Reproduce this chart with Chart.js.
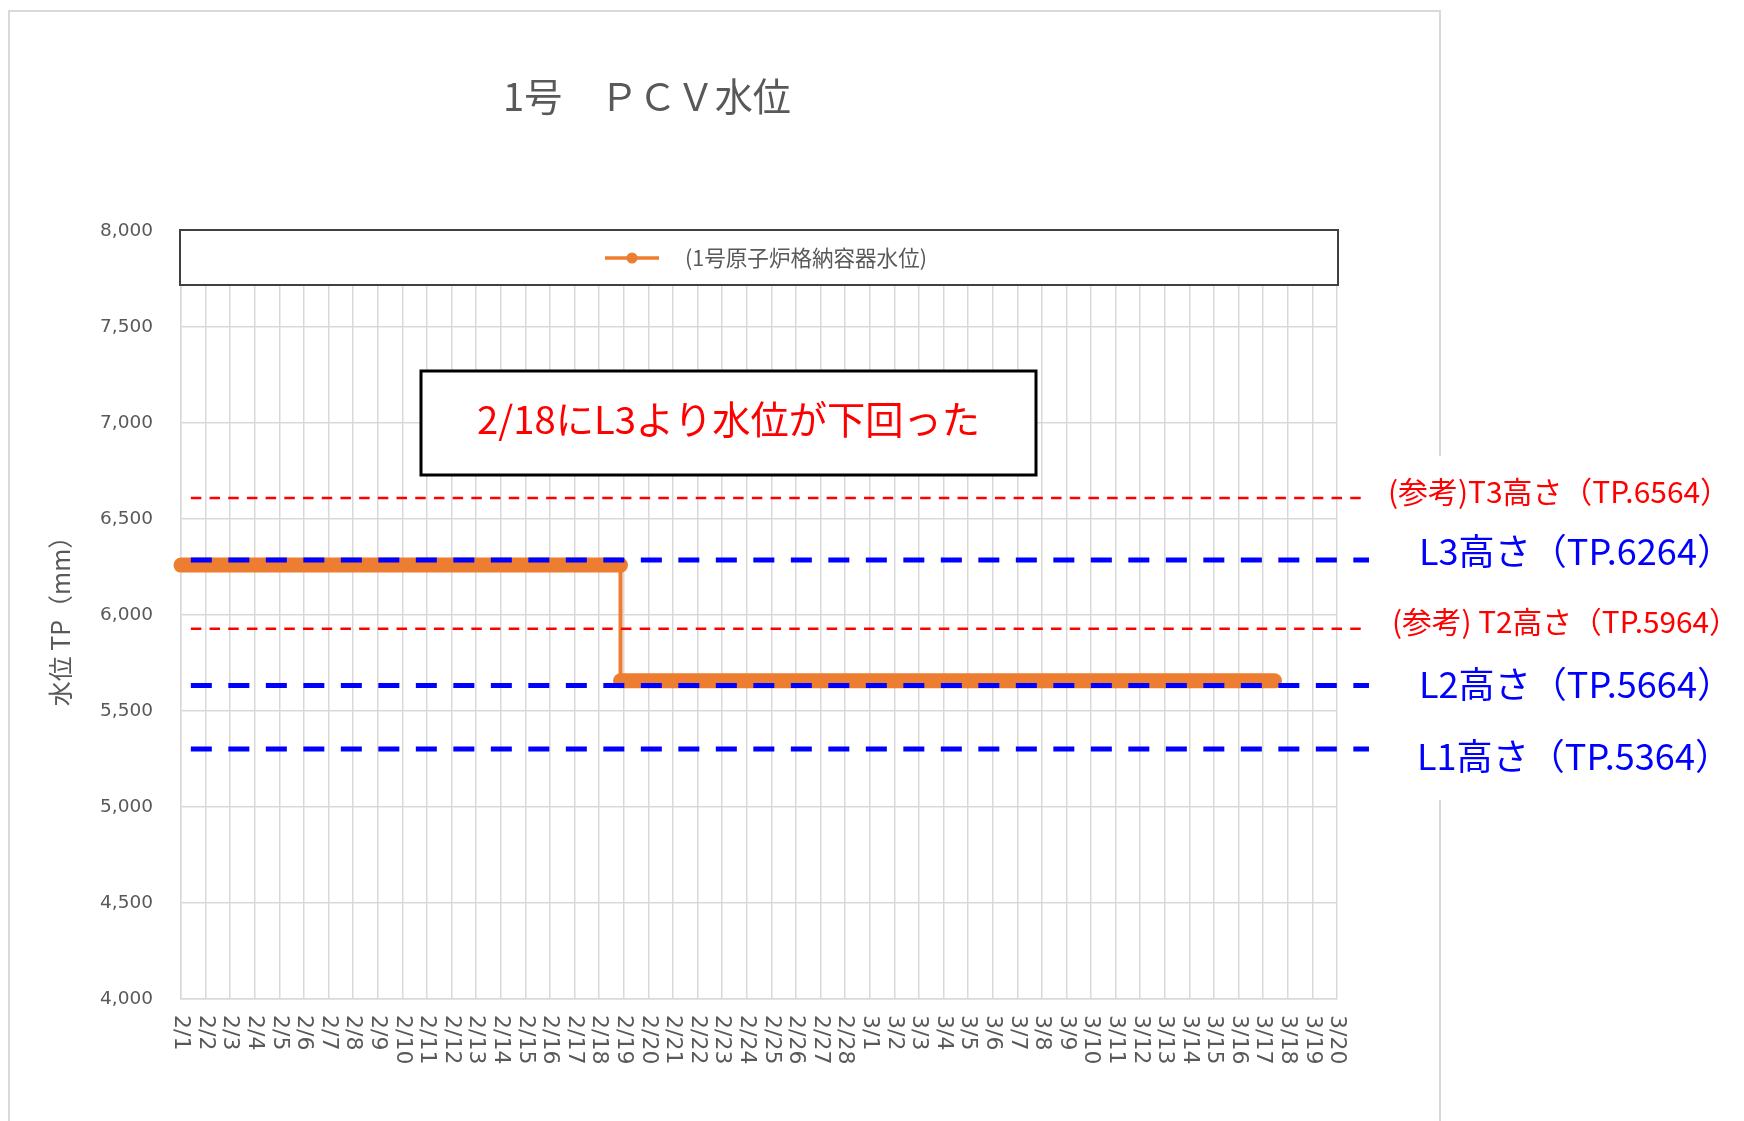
<!DOCTYPE html>
<html>
<head>
<meta charset="utf-8">
<script src="https://cdn.jsdelivr.net/npm/chart.js@4/dist/chart.umd.min.js"></script>
<style>
  html, body { margin: 0; padding: 0; background: #fff; }
  canvas { display: block; }
</style>
</head>
<body>
<canvas id="pcvChart" width="1744" height="1121"></canvas>
<script>
// Daily category labels on the x axis
const dayLabels = [
    '2/1', '2/2', '2/3', '2/4', '2/5', '2/6', '2/7', '2/8', '2/9', '2/10',
    '2/11', '2/12', '2/13', '2/14', '2/15', '2/16', '2/17', '2/18', '2/19', '2/20',
    '2/21', '2/22', '2/23', '2/24', '2/25', '2/26', '2/27', '2/28',
    '3/1', '3/2', '3/3', '3/4', '3/5', '3/6', '3/7', '3/8', '3/9', '3/10',
    '3/11', '3/12', '3/13', '3/14', '3/15', '3/16', '3/17', '3/18', '3/19', '3/20'
];

// PCV water level: days since 2/1 and level (mm)
const levelDays = [0, 17.87, 17.87, 44.46];
const levelValues = [6260, 6260, 5657, 5657];

// Reference heights drawn as dashed lines (as placed on the picture)
const refNames = ['(参考)T3高さ（TP.6564）', 'L3高さ（TP.6264）', '(参考) T2高さ（TP.5964）', 'L2高さ（TP.5664）', 'L1高さ（TP.5364）'];
const refLevels = [6610, 6287, 5929, 5633, 5302];

const yTicks = [4000, 4500, 5000, 5500, 6000, 6500, 7000, 7500, 8000];

const titleText = '1号　ＰＣＶ水位';
const seriesName = '(1号原子炉格納容器水位)';
const noteText = '2/18にL3より水位が下回った';

const GREY = '#595959';
const ORANGE = '#ED7D31';
const CJK = '"Noto Sans CJK JP"';

// draw a line of text scaled to span left..right
function fitText(ctx, text, left, right, cy, color) {
    ctx.font = '100px ' + CJK;
    const w = ctx.measureText(text).width;
    ctx.font = (100 * (right - left) / w).toFixed(2) + 'px ' + CJK;
    ctx.fillStyle = color;
    ctx.textAlign = 'left';
    ctx.textBaseline = 'middle';
    ctx.fillText(text, left, cy);
}

const overlays = {
    id: 'overlays',
    beforeDraw(chart) {
        const ctx = chart.ctx;
        ctx.save();
        ctx.fillStyle = '#fff';
        ctx.fillRect(0, 0, chart.width, chart.height);
        // outer chart frame
        ctx.strokeStyle = '#d9d9d9';
        ctx.lineWidth = 2;
        ctx.beginPath();
        ctx.moveTo(9, 1125);
        ctx.lineTo(9, 11);
        ctx.lineTo(1440, 11);
        ctx.lineTo(1440, 1125);
        ctx.stroke();
        ctx.restore();
    },
    afterDraw(chart) {
        const ctx = chart.ctx;
        const x = chart.scales.x;
        const y = chart.scales.y;
        ctx.save();

        // title
        fitText(ctx, titleText, 503, 791, 97, GREY);

        // legend box
        ctx.fillStyle = '#fff';
        ctx.fillRect(180, 230, 1158, 55);
        ctx.strokeStyle = '#404040';
        ctx.lineWidth = 2;
        ctx.strokeRect(180, 230, 1158, 55);
        ctx.strokeStyle = ORANGE;
        ctx.lineWidth = 3.5;
        ctx.beginPath();
        ctx.moveTo(605, 258);
        ctx.lineTo(659, 258);
        ctx.stroke();
        ctx.fillStyle = ORANGE;
        ctx.beginPath();
        ctx.arc(632, 258, 5.5, 0, Math.PI * 2);
        ctx.fill();
        fitText(ctx, seriesName, 685, 927, 258, GREY);

        // white patch behind the reference labels
        ctx.fillStyle = '#fff';
        ctx.fillRect(1378, 456, 366, 344);

        // reference lines
        const x0 = x.getPixelForValue(0.4);
        const x1 = x.getPixelForValue(48.3);
        const labelBox = [[1388, 1730, 492], [1419, 1733, 551], [1392, 1739, 622], [1419, 1733, 684], [1417, 1731, 756]];
        refLevels.forEach((v, i) => {
            const isT = refNames[i].startsWith('(');
            const py = y.getPixelForValue(v);
            ctx.strokeStyle = isT ? '#ff0000' : '#0000ff';
            ctx.lineWidth = isT ? 2.5 : 5;
            ctx.setLineDash(isT ? [10.5, 8.2] : [21, 16.5]);
            ctx.beginPath();
            ctx.moveTo(x0, py);
            ctx.lineTo(x1, py);
            ctx.stroke();
            const b = labelBox[i];
            fitText(ctx, refNames[i], b[0], b[1], b[2], isT ? '#ff0000' : '#0000ff');
        });
        ctx.setLineDash([]);

        // note box
        ctx.fillStyle = '#fff';
        ctx.fillRect(421, 371, 615, 104);
        ctx.strokeStyle = '#000';
        ctx.lineWidth = 3;
        ctx.strokeRect(421, 371, 615, 104);
        fitText(ctx, noteText, 477, 980, 419, '#ff0000');

        // x tick labels, rotated to read downward
        ctx.fillStyle = GREY;
        ctx.font = '22px "DejaVu Sans"';
        ctx.textAlign = 'left';
        ctx.textBaseline = 'middle';
        dayLabels.forEach((lab, i) => {
            ctx.save();
            ctx.translate(x.getPixelForValue(i), 1015);
            ctx.rotate(Math.PI / 2);
            ctx.fillText(lab, 0, 0);
            ctx.restore();
        });
        ctx.restore();
    }
};

new Chart(document.getElementById('pcvChart').getContext('2d'), {
    type: 'line',
    data: {
        datasets: [{
            label: seriesName,
            data: levelDays.map((d, i) => ({ x: d, y: levelValues[i] })),
            borderColor: ORANGE,
            backgroundColor: ORANGE,
            borderWidth: 15,
            borderCapStyle: 'round',
            borderJoinStyle: 'round',
            pointRadius: 0,
            clip: false,
            segment: {
                borderWidth: ctx => ctx.p0.parsed.x === ctx.p1.parsed.x ? 4 : 15
            }
        }]
    },
    options: {
        responsive: false,
        animation: false,
        devicePixelRatio: 1,
        layout: { padding: { left: 45, right: 407, top: 231, bottom: 122 } },
        plugins: { legend: { display: false }, tooltip: { enabled: false } },
        scales: {
            x: {
                type: 'linear',
                min: 0,
                max: dayLabels.length - 1,
                ticks: { stepSize: 1, display: false },
                grid: { color: '#d9d9d9', lineWidth: 1.5, drawTicks: false },
                border: { color: '#d9d9d9', width: 1.5 },
                afterFit: s => { s.height = 0; }
            },
            y: {
                min: yTicks[0],
                max: yTicks[yTicks.length - 1],
                afterBuildTicks: s => { s.ticks = yTicks.map(v => ({ value: v })); },
                ticks: {
                    padding: 28,
                    color: GREY,
                    font: { family: 'DejaVu Sans', size: 18.5 },
                    callback: v => v.toLocaleString('en-US')
                },
                grid: { color: '#d9d9d9', lineWidth: 1.5, drawTicks: false },
                border: { color: '#d9d9d9', width: 1.5 },
                title: {
                    display: true,
                    text: '水位 TP（mm）',
                    color: GREY,
                    padding: 0,
                    font: { family: 'Noto Sans CJK JP', size: 25 }
                },
                afterFit: s => { s.width = 136; }
            }
        }
    },
    plugins: [overlays]
});
</script>
</body>
</html>
